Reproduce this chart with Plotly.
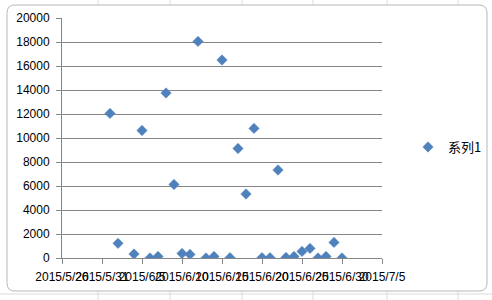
import plotly.graph_objects as go

# ---- data ----
dates = ["2015-06-01", "2015-06-02", "2015-06-04", "2015-06-05", "2015-06-06",
         "2015-06-07", "2015-06-08", "2015-06-09", "2015-06-10", "2015-06-11",
         "2015-06-12", "2015-06-13", "2015-06-14", "2015-06-15", "2015-06-16",
         "2015-06-17", "2015-06-18", "2015-06-19", "2015-06-20", "2015-06-21",
         "2015-06-22", "2015-06-23", "2015-06-24", "2015-06-25", "2015-06-26",
         "2015-06-27", "2015-06-28", "2015-06-29", "2015-06-30"]
values = [12050, 1220, 330, 10630, 0,
          130, 13750, 6130, 380, 300,
          18050, 0, 130, 16500, 30,
          9130, 5330, 10800, 30, 30,
          7330, 50, 130, 550, 800,
          0, 130, 1300, 0]
series_name = "系列1"

x_tick_vals = ["2015-05-26", "2015-05-31", "2015-06-05", "2015-06-10", "2015-06-15",
               "2015-06-20", "2015-06-25", "2015-06-30", "2015-07-05"]
x_tick_text = ["2015/5/26", "2015/5/31", "2015/6/5", "2015/6/10", "2015/6/15",
               "2015/6/20", "2015/6/25", "2015/6/30", "2015/7/5"]

# ---- layout geometry (pixels) ----
W, H = 492, 300
L, R, T, B = 62, 5, 18, 42
PW, PH = W - L - R, H - T - B
PLOT_RIGHT = 382


def px(x):
    return (x - L) / PW


def py(y):
    return (H - B - y) / PH


def rounded_rect(x0, y0, x1, y1, r):
    return (f"M {px(x0 + r)} {py(y0)} L {px(x1 - r)} {py(y0)} "
            f"Q {px(x1)} {py(y0)} {px(x1)} {py(y0 + r)} "
            f"L {px(x1)} {py(y1 - r)} Q {px(x1)} {py(y1)} {px(x1 - r)} {py(y1)} "
            f"L {px(x0 + r)} {py(y1)} Q {px(x0)} {py(y1)} {px(x0)} {py(y1 - r)} "
            f"L {px(x0)} {py(y0 + r)} Q {px(x0)} {py(y0)} {px(x0 + r)} {py(y0)} Z")


shapes = []
for cx in [98, 170, 242, 313, 387, 458]:
    shapes.append(dict(type="line", xref="paper", yref="paper", layer="below",
                       x0=px(cx), x1=px(cx), y0=py(0), y1=py(H),
                       line=dict(color="#dadcdd", width=1)))
shapes.append(dict(type="line", xref="paper", yref="paper", layer="below",
                   x0=px(0), x1=px(W), y0=py(294), y1=py(294),
                   line=dict(color="#dadcdd", width=1)))
shapes.append(dict(type="path", xref="paper", yref="paper", layer="below",
                   path=rounded_rect(7, 5, 487, 291, 8),
                   fillcolor="white", line=dict(color="#b8b8b8", width=1)))

fig = go.Figure()
fig.add_trace(go.Scatter(
    x=dates, y=values, mode="markers", name=series_name,
    marker=dict(symbol="diamond", size=8, color="#4f81bd",
                line=dict(color="#4a7ebb", width=0.5)),
))

axis_font = dict(family="Liberation Sans, Arial, sans-serif", size=12, color="black")

fig.update_layout(
    width=W, height=H,
    margin=dict(l=L, r=R, t=T, b=B, pad=0, autoexpand=False),
    paper_bgcolor="white", plot_bgcolor="rgba(0,0,0,0)",
    showlegend=True,
    legend=dict(x=px(408), y=py(147), xanchor="left", yanchor="middle",
                font=dict(family="Noto Sans CJK SC, sans-serif", size=13, color="black"),
                bgcolor="rgba(0,0,0,0)", borderwidth=0),
    shapes=shapes,
    xaxis=dict(type="date", range=["2015-05-26", "2015-07-05"],
               domain=[0, px(PLOT_RIGHT)],
               tickmode="array", tickvals=x_tick_vals, ticktext=x_tick_text,
               tickangle=0, showgrid=False, zeroline=False,
               showline=True, linecolor="#868686", linewidth=1,
               ticks="outside", ticklen=5, tickcolor="#868686",
               tickfont=axis_font, ticklabelstandoff=3),
    yaxis=dict(range=[0, 20000], dtick=2000, tick0=0, tickformat="d",
               showgrid=True, gridcolor="#868686", gridwidth=1, zeroline=False,
               showline=True, linecolor="#868686", linewidth=1,
               ticks="outside", ticklen=5, tickcolor="#868686",
               tickfont=axis_font, ticklabelstandoff=4),
)

fig.write_html("out.html")
